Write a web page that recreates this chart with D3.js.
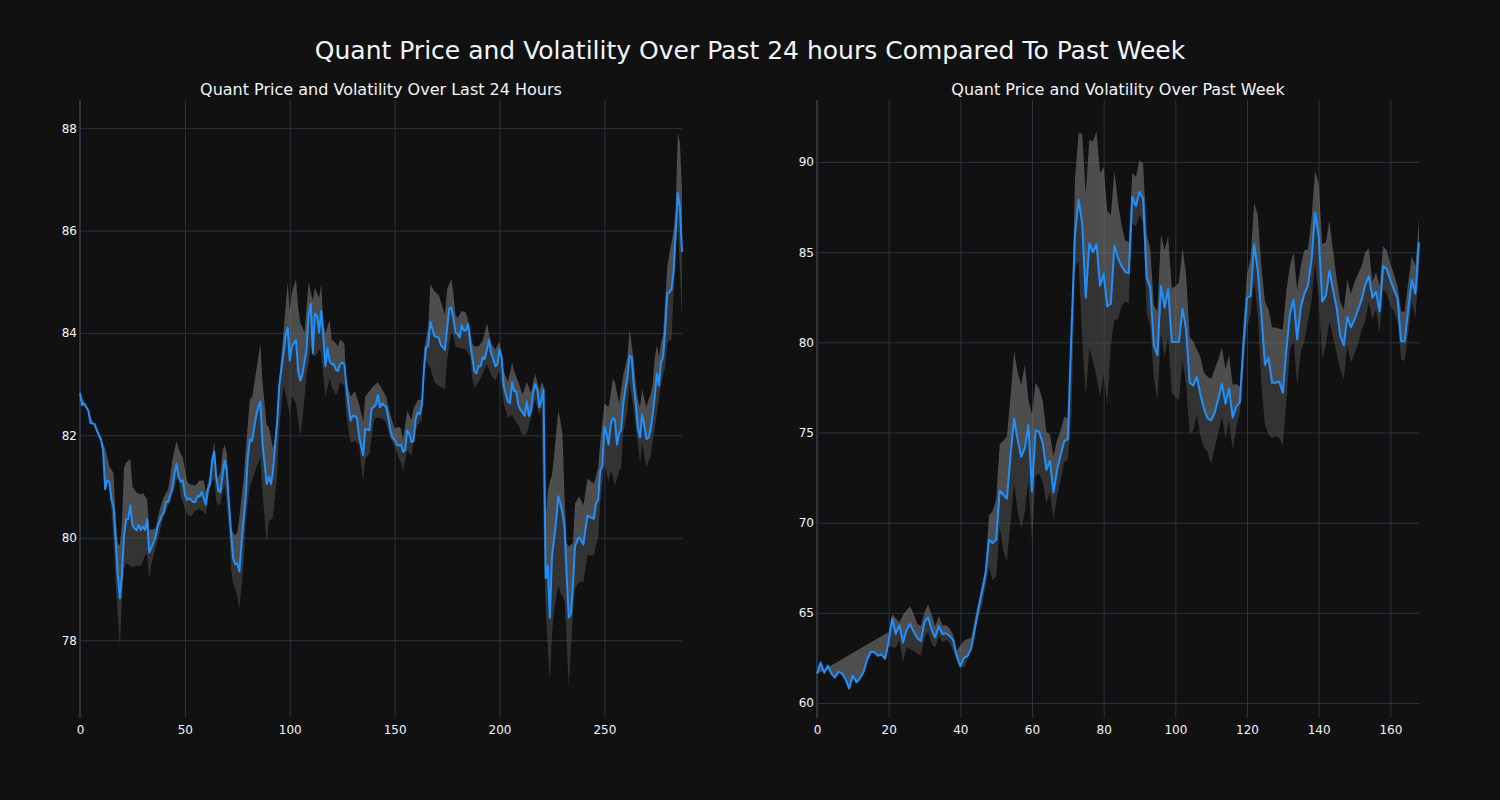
<!DOCTYPE html>
<html><head><meta charset="utf-8">
<script src="https://cdn.jsdelivr.net/npm/d3@7"></script>
<style>
body{margin:0;background:#111111;}
svg{display:block;}
text{font-family:"DejaVu Sans",Verdana,sans-serif;fill:#f2f5fa;}
</style>
</head><body>
<svg id="chart" width="1500" height="800"></svg>
<script>
const mainTitle = "Quant Price and Volatility Over Past 24 hours Compared To Past Week";
const dayTitle = "Quant Price and Volatility Over Last 24 Hours";
const weekTitle = "Quant Price and Volatility Over Past Week";

const dayXTicks = [0, 50, 100, 150, 200, 250];
const dayYTicks = [78, 80, 82, 84, 86, 88];
const weekXTicks = [0, 20, 40, 60, 80, 100, 120, 140, 160];
const weekYTicks = [60, 65, 70, 75, 80, 85, 90];

// 24h price (x = sample index)
const dayX = [0,1,2,4,5,7,8,10,11,12,13,14,15,16,17,18,19,20,21,22,23,24,25,26,27,28,29,30,31,32,33,34,36,37,39,40,41,42,44,45,46,47,48,49,50,51,52,54,55,56,57,58,59,60,61,62,63,64,65,66,67,68,69,70,71,72,73,74,75,76,77,79,80,81,82,83,84,85,86,87,89,90,91,92,94,95,97,98,99,100,101,103,104,105,106,108,109,110,111,112,113,114,115,116,117,118,119,120,121,122,123,124,125,126,127,128,129,130,131,132,133,135,136,138,139,141,142,143,144,146,147,148,149,150,151,152,153,154,155,156,157,158,159,160,161,162,163,164,165,166,167,168,169,171,172,174,175,176,177,178,179,180,181,182,183,184,185,186,187,188,189,190,191,192,193,195,196,197,198,199,200,201,202,203,204,205,206,207,208,209,210,211,212,213,214,215,216,217,218,219,220,221,222,223,224,225,226,227,228,229,230,231,232,233,234,235,236,237,238,240,241,242,243,245,246,247,248,249,250,251,252,253,254,255,256,257,258,259,260,261,262,263,264,265,266,267,268,269,270,271,272,273,274,275,276,277,278,279,280,281,282,283,284,285,286,287];
const dayPrice = [82.83,82.59,82.62,82.48,82.24,82.22,82.10,81.92,81.71,80.95,81.12,81.09,80.74,80.60,79.97,79.28,78.82,79.28,80.04,80.36,80.36,80.63,80.25,80.18,80.15,80.25,80.15,80.22,80.15,80.36,79.71,79.80,80.01,80.22,80.43,80.49,80.70,80.70,80.95,81.23,81.45,81.19,81.09,81.12,80.84,80.74,80.77,80.70,80.70,80.82,80.80,80.89,80.77,80.65,80.95,81.05,81.51,81.68,81.16,80.91,80.89,81.23,81.51,81.30,80.67,80.10,79.60,79.48,79.50,79.34,79.90,80.81,81.57,81.92,81.89,82.13,82.38,82.55,82.66,81.85,81.05,81.19,81.05,81.30,82.27,82.97,83.60,83.94,84.10,83.46,83.74,83.86,83.25,83.07,83.18,83.67,84.36,84.57,83.60,84.38,84.33,84.01,84.43,83.94,83.35,83.70,83.45,83.39,83.39,83.28,83.26,83.39,83.42,83.39,82.97,82.59,82.29,82.38,82.38,82.34,81.99,81.61,82.13,82.10,82.52,82.59,82.79,82.55,82.62,82.55,82.34,82.10,81.95,81.92,81.82,81.80,81.82,81.68,81.71,82.10,82.03,81.87,81.89,82.31,82.45,82.41,82.60,83.30,83.72,83.74,84.22,84.08,83.94,83.91,83.77,83.67,84.08,84.47,84.50,84.29,84.01,83.98,83.91,84.15,84.05,84.05,84.17,83.80,83.53,83.25,83.21,83.35,83.35,83.53,83.49,83.86,83.60,83.49,83.35,83.39,83.67,83.53,82.97,82.80,82.66,82.63,83.04,82.86,82.86,82.59,82.50,82.45,82.38,82.66,82.38,82.48,82.83,83.00,82.90,82.55,82.69,82.90,79.21,79.45,78.44,79.62,79.97,80.32,80.81,80.67,80.49,80.20,79.28,78.44,78.51,79.07,79.83,79.94,80.01,79.87,80.18,80.43,80.41,80.37,80.67,80.74,81.30,81.40,82.17,82.03,81.82,82.20,82.34,82.31,81.82,82.03,82.10,82.62,82.90,83.14,83.56,83.53,82.97,82.60,82.15,81.96,82.41,82.20,81.93,81.95,82.10,82.40,82.75,83.21,82.97,83.42,83.53,84.08,84.78,84.79,84.85,85.20,85.97,86.73,86.45,85.58];

// 24h volatility band
const dayBandX = [10,12,14,16,17,18,19,20,21,22,24,25,27,29,30,31,32,33,34,36,38,40,42,43,44,45,46,47,48,49,51,52,53,55,57,59,60,62,63,64,65,66,67,68,69,70,71,72,73,74,75,76,78,79,81,82,84,86,87,89,90,92,94,95,97,99,100,101,103,104,105,106,107,108,109,110,111,112,114,115,116,117,119,120,122,123,124,126,127,129,131,133,135,136,138,140,141,142,144,146,147,148,150,152,153,154,156,158,159,161,163,164,166,167,169,171,174,175,177,178,179,180,182,184,186,187,188,190,192,194,196,198,200,202,204,206,207,209,211,213,215,217,219,220,221,222,223,224,225,226,228,229,230,231,232,233,235,236,238,240,242,245,247,248,250,252,253,254,255,257,258,259,261,262,264,265,266,267,268,270,271,272,273,274,275,276,277,278,279,280,281,282,283,284,285,286,287];
const dayUpper = [81.92,81.75,81.40,81.26,80.40,79.90,79.85,80.30,81.37,81.47,81.54,81.00,80.88,80.84,80.88,80.81,80.75,80.15,80.16,80.18,80.55,80.80,80.95,81.20,81.51,81.70,81.89,81.75,81.64,81.57,81.12,81.05,81.04,81.02,81.12,81.12,80.88,81.26,81.60,81.89,81.23,81.18,81.30,81.70,81.82,81.64,80.90,80.18,80.10,80.05,80.11,80.40,81.16,81.70,82.72,82.74,83.25,83.80,83.04,82.20,82.17,81.75,82.27,83.11,84.01,84.99,84.43,84.78,85.06,84.50,84.20,84.12,84.01,84.50,84.99,84.80,84.64,84.89,84.68,84.95,84.22,84.00,84.26,83.87,83.80,83.74,83.87,83.80,83.04,82.76,82.86,82.62,82.27,82.76,82.86,82.97,83.00,83.04,82.90,82.76,82.55,82.40,82.13,82.17,82.13,81.92,82.48,82.30,82.52,82.69,82.70,83.67,84.10,84.95,84.81,84.74,84.36,84.85,85.06,84.78,84.36,84.29,84.43,84.40,84.08,83.80,83.74,83.74,83.85,84.19,83.80,83.67,83.84,83.25,83.04,83.42,83.25,83.04,82.80,83.04,82.83,83.21,82.86,83.04,82.97,80.40,80.90,81.10,81.23,81.60,82.48,82.30,82.03,80.80,79.90,79.83,79.90,80.67,80.81,80.63,81.16,81.05,81.37,81.85,82.62,82.55,82.80,83.11,83.04,82.62,82.90,83.18,83.53,84.08,83.46,83.00,82.69,82.55,82.90,82.55,82.69,82.80,83.00,83.50,83.77,83.53,83.80,83.98,84.64,85.30,85.55,85.76,86.00,86.45,87.92,87.71,86.80];
const dayLower = [81.85,81.50,81.10,79.95,79.10,78.50,77.88,78.79,79.40,79.50,79.45,79.43,79.46,79.45,79.55,79.65,79.69,79.21,79.48,79.80,80.11,80.46,80.62,80.70,80.85,80.98,81.10,81.23,80.80,80.70,80.46,80.44,80.42,80.53,80.56,80.50,80.46,81.00,81.10,81.16,80.70,80.63,80.67,80.90,81.02,80.60,80.20,79.40,79.10,79.00,78.85,78.61,79.50,80.32,81.02,81.10,81.37,81.57,80.88,79.90,80.32,80.39,81.23,82.13,82.97,82.62,82.41,82.76,82.62,82.30,81.99,82.30,82.69,83.20,83.39,83.74,83.60,83.53,83.67,83.60,83.18,82.76,83.11,82.95,82.80,82.85,83.04,82.97,82.40,81.85,81.89,81.82,81.09,81.54,81.64,82.27,82.34,82.34,82.34,82.24,82.06,81.95,81.78,81.55,81.47,81.30,81.71,81.60,81.92,82.20,82.30,83.53,83.39,83.32,83.04,82.97,82.90,83.46,84.01,83.94,83.74,83.72,83.70,83.67,83.53,83.11,82.93,83.04,83.21,83.39,83.18,83.07,83.25,82.62,82.34,82.41,82.31,82.20,81.99,82.03,82.34,82.69,82.41,82.55,80.18,78.65,77.90,77.18,78.09,78.58,79.07,78.93,78.85,78.79,78.02,77.06,78.51,79.00,79.14,79.14,79.66,79.66,80.01,80.67,81.44,81.09,81.30,81.20,81.02,81.30,81.37,82.06,82.48,83.04,82.48,82.10,81.85,81.44,81.85,81.37,81.50,81.57,81.90,82.13,82.41,82.70,82.97,83.20,83.32,83.80,83.85,83.87,84.78,85.60,86.17,85.20,84.26];

// week price
const weekX = d3.range(0, 169);
const weekPrice = [61.63,62.25,61.68,62.07,61.63,61.41,61.74,61.63,61.30,60.80,61.52,61.15,61.37,61.74,62.40,62.84,62.82,62.62,62.69,62.45,63.40,64.66,63.83,64.30,63.34,64.05,64.38,63.94,63.61,63.43,64.48,64.75,64.05,63.65,64.27,63.83,63.87,63.72,63.50,62.60,62.03,62.51,62.60,62.99,64.05,65.14,66.13,67.12,69.05,68.87,69.05,71.77,71.55,71.33,73.70,75.78,74.58,73.66,74.14,75.41,71.72,75.13,75.02,74.40,72.93,73.44,71.68,72.93,73.74,74.53,74.62,80.50,85.99,87.92,86.60,82.47,85.50,85.00,85.44,83.13,83.79,81.99,82.15,85.37,84.67,84.23,83.90,83.83,88.07,87.56,88.35,87.96,83.62,83.02,79.84,79.29,83.13,81.93,82.96,80.02,80.02,80.02,81.86,80.72,77.76,77.60,78.09,77.10,76.33,75.78,75.67,76.11,76.88,77.69,76.59,77.43,75.83,76.44,76.66,79.84,82.47,82.58,85.44,84.01,81.60,78.75,79.14,77.76,77.76,77.82,77.21,79.62,81.60,82.37,80.17,81.93,82.69,83.13,84.56,87.19,85.88,82.26,82.58,83.97,82.91,81.93,80.39,79.84,81.42,80.83,81.27,81.82,82.37,83.18,83.68,82.47,82.80,81.71,84.23,84.05,83.46,82.91,82.47,80.06,80.06,81.82,83.46,82.69,85.55];

// week volatility band (starts at index 20)
const weekBandX = d3.range(20, 169);
const weekUpper = [63.94,64.92,64.70,64.48,64.90,65.14,65.36,64.92,64.38,64.27,65.03,65.47,64.92,64.27,64.81,64.31,64.31,64.15,63.80,62.90,63.21,63.45,63.55,63.61,64.60,65.58,66.50,67.45,70.41,70.63,71.29,74.36,74.55,74.80,77.00,79.51,78.31,77.65,78.75,76.80,76.00,77.76,77.43,76.77,75.02,74.91,73.70,74.58,75.13,75.89,75.78,80.28,89.06,91.58,91.58,88.18,91.25,91.14,91.69,89.39,89.71,87.30,87.08,89.50,87.74,86.50,85.66,85.55,89.39,89.17,90.11,89.93,85.99,85.22,82.04,81.71,85.99,85.11,85.88,83.02,83.10,83.35,85.22,83.79,80.28,80.06,79.60,79.18,78.31,78.10,77.98,78.53,79.07,79.73,78.53,79.29,77.65,77.69,77.54,80.94,83.79,84.67,87.74,87.08,84.23,82.26,81.82,80.83,80.83,80.75,80.72,82.91,84.23,85.00,82.91,84.23,85.11,85.15,86.86,89.50,88.84,85.44,85.55,86.75,85.11,83.57,82.26,81.82,83.46,82.69,83.35,83.80,84.23,85.00,85.22,83.35,83.90,83.13,85.33,85.11,84.34,83.79,83.13,81.71,81.71,83.35,84.78,84.23,86.86];
const weekLower = [63.17,63.10,63.06,63.50,62.29,63.10,63.00,62.90,62.73,62.62,63.61,63.94,63.28,63.06,63.72,63.39,63.50,63.35,62.90,62.40,62.07,61.95,62.40,63.20,64.05,64.80,65.36,66.40,67.56,66.79,67.01,69.75,68.43,67.89,70.00,72.16,70.63,69.64,70.63,72.38,68.87,72.60,72.71,72.27,71.07,71.72,70.19,71.51,72.40,73.37,73.48,75.89,84.23,84.45,80.28,76.99,79.62,78.96,78.09,76.99,78.31,76.55,79.84,81.27,81.27,82.00,82.26,82.15,86.64,86.42,87.08,86.64,81.60,80.94,78.09,76.77,80.50,79.18,80.28,77.21,76.99,76.77,78.96,77.65,74.91,75.13,76.00,74.80,74.20,73.92,73.26,74.14,75.00,75.89,74.69,75.67,74.03,75.24,76.11,78.53,80.83,81.60,83.35,81.60,77.65,75.45,74.90,74.69,74.80,74.69,74.25,76.77,79.62,80.06,77.65,79.40,80.06,81.16,82.26,84.45,82.47,79.07,79.84,81.16,80.28,79.40,78.53,77.98,79.84,78.86,79.40,79.90,80.70,81.16,82.26,81.27,81.82,80.50,82.91,82.69,82.04,81.71,81.16,79.07,78.96,80.50,82.26,81.38,84.12];

const svg = d3.select('#chart');
svg.append('rect').attr('width', 1500).attr('height', 800).attr('fill', '#111111');
svg.append('text').attr('x', 750).attr('y', 59).attr('text-anchor', 'middle')
  .attr('font-size', 25).text(mainTitle);

const TOP = 100, BOTTOM = 718;

function panel(cfg) {
  const x = d3.scaleLinear().domain(cfg.xDomain).range([cfg.left, cfg.right]);
  const y = d3.scaleLinear().domain(cfg.yDomain).range([BOTTOM, TOP]);
  const g = svg.append('g');

  const xAxis = g.append('g').attr('transform', `translate(0,${BOTTOM})`)
    .call(d3.axisBottom(x).tickValues(cfg.xTicks).tickSize(-(BOTTOM - TOP)).tickPadding(7).tickFormat(d3.format('d')));
  const yAxis = g.append('g').attr('transform', `translate(${cfg.left},0)`)
    .call(d3.axisLeft(y).tickValues(cfg.yTicks).tickSize(-(cfg.right - cfg.left)).tickPadding(3).tickFormat(d3.format('d')));
  [xAxis, yAxis].forEach(a => {
    a.select('.domain').remove();
    a.selectAll('line').attr('stroke', '#283442').attr('stroke-width', 1);
    a.selectAll('text').attr('font-size', 12).attr('fill', '#f2f5fa')
      .style('font-family', '"DejaVu Sans",Verdana,sans-serif');
  });
  // zero line of x axis
  g.append('line').attr('x1', x(0)).attr('x2', x(0)).attr('y1', TOP).attr('y2', BOTTOM)
    .attr('stroke', '#283442').attr('stroke-width', 2);

  const linePts = cfg.lx.map((v, i) => [x(v), y(cfg.ly[i])]);
  const upPts = cfg.bx.map((v, i) => [x(v), y(cfg.up[i])]);
  const loPts = cfg.bx.map((v, i) => [x(v), y(cfg.lo[i])]);
  const path = d3.line();

  // fill between price and upper band (tonexty)
  g.append('path').attr('d', path(linePts.concat(upPts.slice().reverse())) + 'Z')
    .attr('fill', 'rgba(128,128,128,0.55)').attr('stroke', 'none');
  // fill between lower band and price
  g.append('path').attr('d', path(loPts.concat(linePts.slice().reverse())) + 'Z')
    .attr('fill', 'rgba(80,80,80,0.55)').attr('stroke', 'none');

  g.append('path').attr('d', path(linePts)).attr('fill', 'none')
    .attr('stroke', '#1e90ff').attr('stroke-width', 2).attr('stroke-linejoin', 'round');

  g.append('text').attr('x', (cfg.left + cfg.right) / 2).attr('y', 95)
    .attr('text-anchor', 'middle').attr('font-size', 16).text(cfg.title);
}

panel({left: 80, right: 682, xDomain: [0, 287], yDomain: [76.48, 88.55],
  xTicks: dayXTicks, yTicks: dayYTicks, lx: dayX, ly: dayPrice,
  bx: dayBandX, up: dayUpper, lo: dayLower, title: dayTitle});
panel({left: 817, right: 1419, xDomain: [0, 168], yDomain: [59.17, 93.44],
  xTicks: weekXTicks, yTicks: weekYTicks, lx: weekX, ly: weekPrice,
  bx: weekBandX, up: weekUpper, lo: weekLower, title: weekTitle});
</script>
</body></html>
